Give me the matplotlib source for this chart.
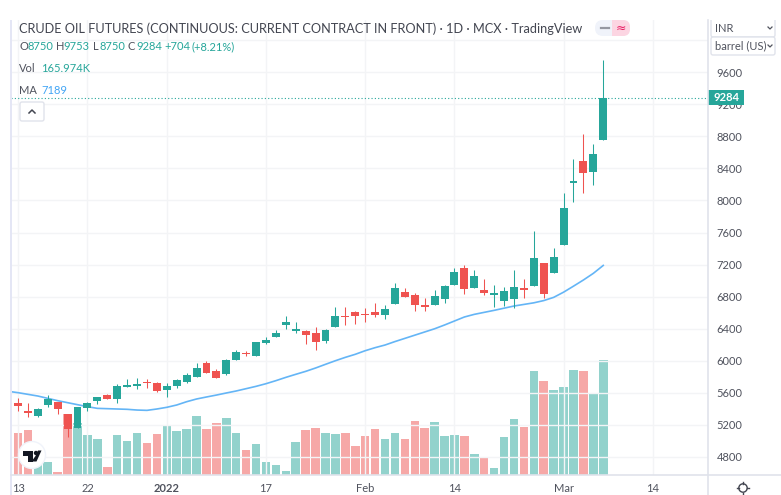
import matplotlib
matplotlib.use("Agg")
import matplotlib.pyplot as plt
from matplotlib.patches import Circle, FancyBboxPatch, Polygon, Rectangle

opens = [5467, 5375, 5313, 5450, 5479, 5329, 5163, 5408, 5492, 5566, 5517, 5675, 5679, 5729, 5716, 5637, 5687, 5737, 5800, 5966,
         5866, 5829, 6008, 6095, 6058, 6220, 6299, 6445, 6366, 6366, 6349, 6245, 6424, 6557, 6603, 6582, 6603, 6570, 6707, 6861,
         6816, 6691, 6699, 6766, 6949, 7153, 6903, 6882, 6824, 6741, 6766, 6903, 6936, 7215, 7094, 7444, 8214, 8493, 8352, 8750]
highs = [5529, 5467, 5404, 5571, 5487, 5329, 5425, 5487, 5550, 5583, 5704, 5766, 5779, 5766, 5729, 5716, 5766, 5841, 5975, 5995,
         5891, 6016, 6133, 6124, 6237, 6291, 6382, 6557, 6486, 6382, 6416, 6395, 6665, 6665, 6620, 6653, 6715, 6695, 6965, 6903,
         6840, 6778, 6882, 6945, 7153, 7190, 7132, 7015, 6945, 6915, 7132, 7020, 7623, 7223, 7402, 8089, 8518, 8826, 8701, 9753]
lows = [5371, 5300, 5300, 5425, 5333, 5050, 5163, 5375, 5458, 5517, 5467, 5675, 5650, 5662, 5608, 5546, 5662, 5716, 5791, 5841,
        5787, 5820, 6008, 6058, 6058, 6207, 6299, 6399, 6341, 6203, 6133, 6224, 6424, 6445, 6457, 6486, 6541, 6516, 6707, 6799,
        6624, 6624, 6699, 6724, 6949, 6832, 6903, 6820, 6674, 6682, 6662, 6786, 6936, 6786, 7094, 7444, 7985, 8089, 8194, 8750]
closes = [5437, 5350, 5396, 5517, 5400, 5142, 5425, 5475, 5541, 5525, 5679, 5696, 5704, 5716, 5616, 5679, 5758, 5825, 5904, 5841,
          5787, 6008, 6112, 6083, 6228, 6257, 6341, 6486, 6395, 6320, 6237, 6382, 6557, 6541, 6561, 6570, 6570, 6645, 6903, 6799,
          6699, 6674, 6803, 6928, 7107, 6890, 7053, 6845, 6849, 6870, 6915, 6878, 7278, 6832, 7290, 7906, 8244, 8339, 8585, 9284]

# the first value of these two belongs to the day cut off at the left edge
volumes = [71, 60.5, 64.8, 22, 18.7, 5.3, 87.8, 75.8, 58, 52.8, 12, 58, 49, 61, 46.5, 59.5, 71, 63.4, 66.2, 85.4, 66.2,
           74.9, 82.6, 60.5, 36, 44.6, 18.7, 14.9, 6.7, 47.5, 65.8, 68.2, 60.5, 59, 60.5, 42.2, 56.6, 67.2, 52.8, 60.5, 52.8,
           77.8, 68.2, 76.3, 56.6, 58, 56.6, 30.2, 25, 11, 55.2, 81.6, 69.6, 149.8, 136.3, 123.4, 127.2, 152.2, 150.7, 118.6, 165.974]
volume_up = [1, 0, 0, 1, 1, 0, 0, 1, 1, 1, 0, 1, 1, 1, 0, 0, 1, 1, 1, 1, 0,
             0, 1, 1, 0, 1, 1, 1, 1, 1, 0, 0, 1, 1, 0, 0, 0, 0, 1, 1, 0,
             0, 0, 1, 1, 1, 0, 1, 0, 1, 1, 1, 0, 1, 0, 1, 1, 1, 0, 1, 1]
ma = [5617, 5600, 5579, 5558, 5529, 5500, 5475, 5450, 5425, 5404, 5400, 5396, 5392, 5383, 5379, 5396, 5417, 5446, 5487, 5521, 5546,
      5570, 5596, 5621, 5650, 5679, 5712, 5750, 5791, 5829, 5866, 5908, 5954, 5999, 6041, 6079, 6124, 6162, 6195, 6238, 6278,
      6318, 6358, 6398, 6445, 6495, 6545, 6578, 6603, 6628, 6655, 6682, 6702, 6722, 6750, 6790, 6855, 6930, 7007, 7090, 7189]

price_ticks = [4800, 5200, 5600, 6000, 6400, 6800, 7200, 7600, 8000, 8400, 8800, 9200, 9600, 10000]
price_labels = ["4800", "5200", "5600", "6000", "6400", "6800", "7200", "7600", "8000", "8400", "8800", "9200", "9600", ""]
date_ticks = [0, 7, 15, 25, 35, 44, 55, 64]
date_labels = ["13", "22", "2022", "17", "Feb", "14", "Mar", "14"]

GREEN = "#26a69a"
RED = "#ef5350"
BLUE = "#64b5f6"
GRID = "#f3f4f6"
AXIS = "#e0e3eb"
TEXT = "#50535e"
plt.rcParams["font.family"] = ["Lato", "DejaVu Sans"]

fig = plt.figure(figsize=(7.81, 4.95), dpi=100, facecolor="white")
rect = [11 / 781, 1 - 475.3 / 495, 697 / 781, 455.3 / 495]
xlim = (-0.706, 69.56)

# volume sits underneath, with its own scale
ax_vol = fig.add_axes(rect)
ax_vol.set_xlim(xlim)
ax_vol.set_ylim(0, 657)
days_vol = list(range(-1, 60))
vol_colors = [GREEN if u else RED for u in volume_up]
ax_vol.bar(days_vol, volumes, width=0.86, color=vol_colors, alpha=0.5, zorder=2)
ax_vol.set_yticks([])
ax_vol.set_xticks([])
for s in ax_vol.spines.values():
    s.set_visible(False)

ax = fig.add_axes(rect)
ax.patch.set_alpha(0)
ax.set_xlim(xlim)
ax.set_ylim(4568, 10254)
ax.yaxis.tick_right()
ax.set_yticks(price_ticks)
ax.set_yticklabels(price_labels)
ax.set_xticks(date_ticks)
ax.set_xticklabels(date_labels)
ax.tick_params(axis="y", length=0, pad=6.3, labelsize=8, labelcolor=TEXT)
ax.tick_params(axis="x", length=0, pad=5.8, labelsize=8, labelcolor=TEXT)
ax.get_xticklabels()[2].set_fontweight("bold")
ax.grid(True, color=GRID, lw=1)
ax.set_axisbelow(True)
for s in ax.spines.values():
    s.set_visible(False)

ax.plot(days_vol, ma, color=BLUE, lw=1.2, zorder=3)
days = list(range(len(closes)))
colors = [GREEN if c >= o else RED for o, c in zip(opens, closes)]
ax.vlines(days, lows, highs, colors=colors, lw=0.75, zorder=4)
ax.bar(days, [abs(c - o) for o, c in zip(opens, closes)], bottom=[min(o, c) for o, c in zip(opens, closes)],
       width=0.8, color=colors, zorder=5)
ax.axhline(closes[-1], color=GREEN, lw=0.8, ls=(0, (1, 2)), zorder=6)

# everything around the plot, in pixels of the screenshot
ui = fig.add_axes([0, 0, 1, 1], zorder=10)
ui.patch.set_alpha(0)
ui.set_xlim(0, 781)
ui.set_ylim(495, 0)
ui.axis("off")

ui.plot([708, 708], [20, 495], color=AXIS, lw=1.2)
ui.plot([11, 781], [475.3, 475.3], color=AXIS, lw=1.2)
ui.add_patch(Rectangle((10, 20), 2, 475, color="#e4e6f5", lw=0))

ui.add_patch(Rectangle((708, 90), 35.7, 15, color=GREEN, lw=0))
ui.text(726.5, 97.6, f"{closes[-1]}", color="white", fontsize=8, ha="center", va="center", fontweight="bold")

ui.add_patch(Rectangle((709, 20), 72, 36, color="white", lw=0))
ui.add_patch(FancyBboxPatch((711, 15), 64, 22, boxstyle="round,pad=0,rounding_size=2", fc="white", ec=AXIS, lw=1))
ui.add_patch(FancyBboxPatch((711, 37), 64, 18, boxstyle="round,pad=0,rounding_size=2", fc="white", ec=AXIS, lw=1))
ui.add_patch(Rectangle((709, 0), 72, 20, color="white", lw=0))
ui.text(715, 28, "INR", color=TEXT, fontsize=8, va="center")
ui.text(715, 46, "barrel (US)", color=TEXT, fontsize=8, va="center")
ui.plot([768, 770, 772], [27, 29, 27], color=TEXT, lw=0.9)
ui.plot([768, 770, 772], [45, 47, 45], color=TEXT, lw=0.9)

ui.text(19, 29, "CRUDE OIL FUTURES (CONTINUOUS: CURRENT CONTRACT IN FRONT) · 1D · MCX · TradingView",
        color="#434651", fontsize=9.2, va="center")

legend_parts = [(19, "O", TEXT), (27, "8750", GREEN), (55.7, "H", TEXT), (63.5, "9753", GREEN), (92.5, "L", TEXT),
                (99, "8750", GREEN), (127.5, "C", TEXT), (136, "9284", GREEN), (164, "+704", GREEN), (191, "(+8.21%)", GREEN),
                ]
for x, label, col in legend_parts:
    ui.text(x, 47, label, color=col, fontsize=8, va="center")
ui.text(19, 68, "Vol", color=TEXT, fontsize=8, va="center")
ui.text(41.5, 68, "165.974K", color=GREEN, fontsize=8, va="center")
ui.text(19, 90, "MA", color=TEXT, fontsize=8, va="center")
ui.text(41, 90, f"{ma[-1]}", color="#42a5f5", fontsize=8, va="center")

ui.add_patch(FancyBboxPatch((20, 102), 24, 19, boxstyle="round,pad=0,rounding_size=2", fc="white", ec=AXIS, lw=1))
ui.plot([29, 32, 35], [113, 110, 113], color="#434651", lw=1.1)

ui.add_patch(FancyBboxPatch((595, 20), 35, 16, boxstyle="round,pad=0,rounding_size=8", fc="#f0f3fa", ec="none"))
ui.add_patch(FancyBboxPatch((612, 20), 18, 16, boxstyle="round,pad=0,rounding_size=7", fc="#fcd5e2", ec="none"))
ui.add_patch(Rectangle((612, 20), 6, 16, color="#fcd5e2", lw=0))
ui.plot([601, 609], [28, 28], color="#9598a1", lw=1.6)
ui.text(620.5, 28, "≈", color="#e91e63", fontsize=9, ha="center", va="center", family="DejaVu Sans")

# tradingview badge
ui.add_patch(Circle((32, 455), 13.5, fc="white", ec="#f0f3fa", lw=1))
ui.add_patch(Polygon([(22.5, 450.5), (33, 450.5), (33, 461.5), (27.5, 461.5), (27.5, 455.5), (22.5, 455.5)], color="#131722", lw=0))
ui.add_patch(Circle((36, 453), 2.2, color="#131722", lw=0))
ui.add_patch(Polygon([(41.5, 450.5), (36.5, 461.5), (31.5, 461.5), (35.5, 456), (38, 450.5)], color="#131722", lw=0))

# settings gear
ui.add_patch(Circle((743, 488), 4.2, fc="white", ec="#434651", lw=1))
for x0, y0, x1, y1 in [(743, 481.5, 743, 483.5), (743, 492.5, 743, 494.5), (737, 488, 738.8, 488), (747.2, 488, 749, 488)]:
    ui.plot([x0, x1], [y0, y1], color="#434651", lw=1)

fig.savefig("out.png", dpi=100)
